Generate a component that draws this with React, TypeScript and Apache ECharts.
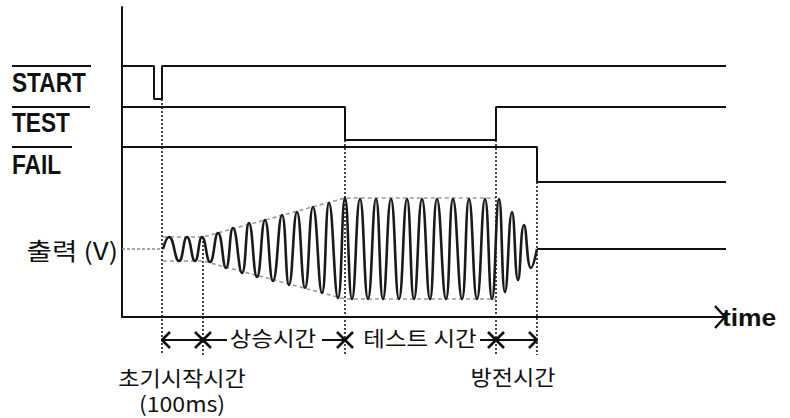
import React, { useEffect, useRef } from "react";
import * as echarts from "echarts";

// ---- time axis (1 unit ~ 1 px) ----
const T_AXIS_END = 603;
const T_SIGNAL_END = 606;
const V_AXIS_MAX = 310;

// ---- digital signals: [high, low] levels ----
const startLevels = [251, 218];
const startPulse = [32, 40];
const testLevels = [210, 177];
const testWindow = [223, 374];
const failLevels = [170, 135];
const failTime = 415;

// ---- output waveform (peaks / troughs) ----
const outputBase = 68;
const waveStart = 41;
const waveT = [
  41, 47, 57, 65, 73, 80,
  88, 96, 104, 111, 120, 127, 135, 143, 151, 160, 167, 175, 183, 191, 200, 207, 216, 223,
  230, 238, 246, 254, 261, 269, 277, 285, 292, 300, 308, 315, 324, 331, 340, 347, 355, 363, 370, 377,
  383, 390, 396, 402, 409, 415,
];
const waveV = [
  68, 80, 56, 80, 56, 80,
  55, 84, 49, 89, 44, 94, 40, 97, 36, 102, 32, 105, 29, 110, 24, 114, 19, 119,
  18, 118, 18, 118, 18, 118, 18, 118, 18, 118, 18, 118, 18, 118, 18, 118, 18, 118, 18, 118,
  25, 105, 37, 92, 49, 68,
];
const envT = [41, 81, 223, 374];
const envTopV = [80, 80, 119, 119];
const envBotV = [56, 56, 18, 18];

// ---- timing markers ----
const markerT = [40, 81, 223, 374, 415];
const markerTopV = [218, 80, 177, 177, 135];
const markerBottomV = -38;
const markerKinds = ["left", "cross", "cross", "cross", "right"];
const rowV = -23;
const rowSegments = [
  [40, 105],
  [200, 223],
  [358, 415],
];

// ---- texts ----
const signalNames = ["START", "TEST", "FAIL"];
const signalOverlineWidths = [79, 78, 60];
const outputLabel = "출력 (V)";
const axisName = "time";
const phaseLabels = ["상승시간", "테스트 시간"];
const phaseLabelT = [151, 298];
const phaseLabelV = -20;
const bottomLabels = ["초기시작시간", "(100ms)", "방전시간"];
const bottomLabelT = [60, 60, 391];
const bottomLabelV = [-59, -85, -58];

export default function App() {
  const ref = useRef<HTMLDivElement>(null);

  useEffect(() => {
    const chart = echarts.init(ref.current!, null, { renderer: "svg" });
    const black = "#111111";
    const mk = (data: number[][], style: any = {}, z = 3) => ({
      type: "line",
      data,
      symbol: "none",
      showSymbol: false,
      clip: false,
      silent: true,
      animation: false,
      emphasis: { disabled: true },
      lineStyle: { color: black, width: 2, ...style },
      z,
    });

    const series: any[] = [];
    // digital signals
    series.push(
      mk([
        [0, startLevels[0]],
        [startPulse[0], startLevels[0]],
        [startPulse[0], startLevels[1]],
        [startPulse[1], startLevels[1]],
        [startPulse[1], startLevels[0]],
        [T_SIGNAL_END, startLevels[0]],
      ])
    );
    series.push(
      mk([
        [0, testLevels[0]],
        [testWindow[0], testLevels[0]],
        [testWindow[0], testLevels[1]],
        [testWindow[1], testLevels[1]],
        [testWindow[1], testLevels[0]],
        [T_SIGNAL_END, testLevels[0]],
      ])
    );
    series.push(
      mk([
        [0, failLevels[0]],
        [failTime, failLevels[0]],
        [failTime, failLevels[1]],
        [T_SIGNAL_END, failLevels[1]],
      ])
    );
    // output
    series.push(
      mk([[0, outputBase], [waveStart, outputBase]], { color: "#8a8a8a", width: 1.5, type: [3, 2] }, 2)
    );
    series.push({
      ...mk(waveT.map((t, i) => [t, waveV[i]]), { color: "#1a1a1a", width: 2.6 }, 4),
      smooth: 0.5,
    });
    series.push(mk([[failTime, outputBase], [T_SIGNAL_END, outputBase]]));
    // envelopes
    series.push(mk(envT.map((t, i) => [t, envTopV[i]]), { color: "#9a9a9a", width: 1.6, type: [4, 3] }, 2));
    series.push(mk(envT.map((t, i) => [t, envBotV[i]]), { color: "#9a9a9a", width: 1.6, type: [4, 3] }, 2));
    // vertical markers
    markerT.forEach((t, i) => {
      series.push(
        mk([[t, markerTopV[i]], [t, markerBottomV]], { color: "#1a1a1a", width: 1.6, type: [2, 2] }, 2)
      );
    });
    // annotation row
    rowSegments.forEach((s) => series.push(mk([[s[0], rowV], [s[1], rowV]])));
    const h = 8;
    markerT.forEach((t, i) => {
      const k = markerKinds[i];
      if (k === "left" || k === "cross")
        series.push(mk([[t + h, rowV + h], [t, rowV], [t + h, rowV - h]], { width: 2.6 }));
      if (k === "right" || k === "cross")
        series.push(mk([[t - h, rowV + h], [t, rowV], [t - h, rowV - h]], { width: 2.6 }));
    });
    // time axis chevron
    series.push(
      mk([[T_AXIS_END - 10, 11], [T_AXIS_END, 0], [T_AXIS_END - 10, -11]], { width: 2.4 })
    );

    chart.setOption({
      animation: false,
      grid: { left: 122, top: 7, width: T_AXIS_END, height: V_AXIS_MAX },
      xAxis: {
        type: "value",
        min: 0,
        max: T_AXIS_END,
        axisLine: { show: true, lineStyle: { color: black, width: 2 } },
        axisTick: { show: false },
        axisLabel: { show: false },
        splitLine: { show: false },
      },
      yAxis: {
        type: "value",
        min: 0,
        max: V_AXIS_MAX,
        axisLine: { show: true, onZero: false, lineStyle: { color: black, width: 2 } },
        axisTick: { show: false },
        axisLabel: { show: false },
        splitLine: { show: false },
      },
      series,
    });

    const px = (t: number, v: number) => chart.convertToPixel({ gridIndex: 0 }, [t, v]) as number[];
    const levels = [startLevels[0], testLevels[0], failLevels[0]];
    const graphic: any[] = [];
    const labelOffsets = [16, 15, 17];
    signalNames.forEach((name, i) => {
      const y = px(0, levels[i])[1];
      graphic.push({
        type: "line",
        shape: { x1: 12, y1: y, x2: 12 + signalOverlineWidths[i], y2: y },
        style: { stroke: black, lineWidth: 2 },
      });
      graphic.push({
        type: "text",
        x: 12,
        y: y + labelOffsets[i],
        scaleX: 0.84,
        style: {
          text: name,
          fill: black,
          font: 'bold 27px "Liberation Sans", Arial, sans-serif',
          textAlign: "left",
          textVerticalAlign: "middle",
        },
      });
    });
    const oy = px(0, outputBase)[1];
    graphic.push({
      type: "text",
      x: 118,
      y: oy,
      scaleX: 1.15,
      style: {
        text: outputLabel,
        fill: black,
        font: '24px "Noto Sans CJK KR", sans-serif',
        textAlign: "right",
        textVerticalAlign: "middle",
      },
    });
    const tp = px(T_AXIS_END, 0);
    graphic.push({
      type: "text",
      x: tp[0] - 3,
      y: tp[1],
      scaleX: 1.1,
      style: {
        text: axisName,
        fill: black,
        font: 'bold 24px "Liberation Sans", Arial, sans-serif',
        textAlign: "left",
        textVerticalAlign: "middle",
      },
    });
    phaseLabels.forEach((txt, i) => {
      const p = px(phaseLabelT[i], phaseLabelV);
      graphic.push({
        type: "text",
        x: p[0],
        y: p[1],
        scaleX: 1.12,
        style: {
          text: txt,
          fill: black,
          font: '21px "Noto Sans CJK KR", sans-serif',
          textAlign: "center",
          textVerticalAlign: "middle",
        },
      });
    });
    bottomLabels.forEach((txt, i) => {
      const p = px(bottomLabelT[i], bottomLabelV[i]);
      graphic.push({
        type: "text",
        x: p[0],
        y: p[1],
        scaleX: 1.1,
        style: {
          text: txt,
          fill: black,
          font: '21px "Noto Sans CJK KR", sans-serif',
          textAlign: "center",
          textVerticalAlign: "middle",
        },
      });
    });
    chart.setOption({ graphic });

    return () => chart.dispose();
  }, []);

  return (
    <div
      ref={ref}
      style={{ position: "fixed", left: 0, top: 0, width: 790, height: 418, background: "#fff" }}
    />
  );
}
